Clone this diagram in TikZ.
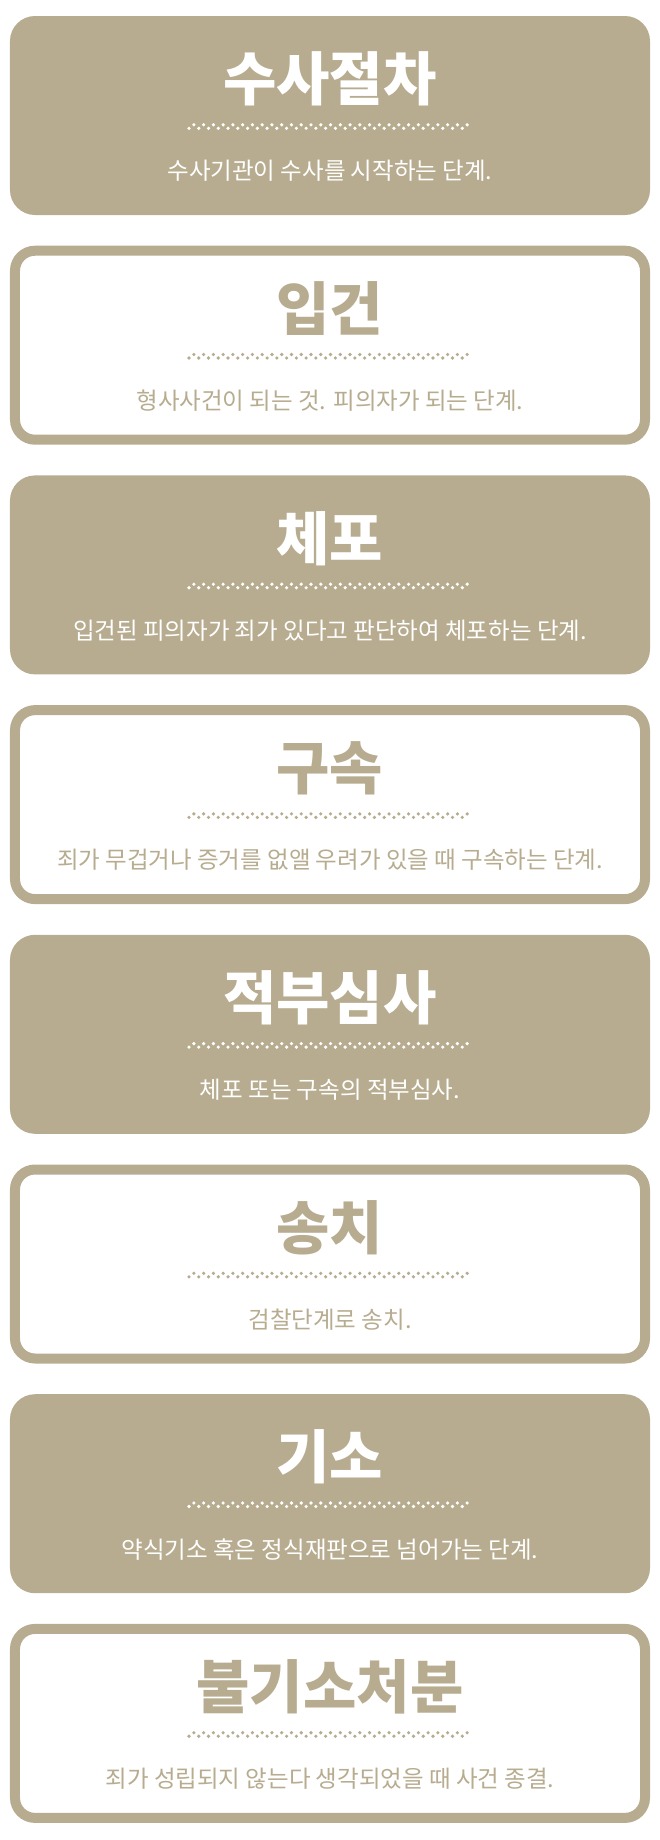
\documentclass[tikz,border=0pt]{standalone}
\usepackage{fontspec}
\newfontfamily\kr{Noto Sans CJK KR}
\usetikzlibrary{
  chains,
  positioning
}
\definecolor{tan}{RGB}{183,172,143}

\begin{document}
\begin{tikzpicture}[x=1pt,y=1pt,
  filled/.style={rectangle, rounded corners=25pt, fill=tan, minimum width=640pt, minimum height=199pt, inner sep=0pt, outer sep=0pt},
  framed/.style={rectangle, rounded corners=20pt, draw=tan, fill=white, line width=10pt, minimum width=630pt, minimum height=189pt, inner sep=0pt, outer sep=5pt},
  head/.style={font=\kr\bfseries\fontsize{58}{62}\selectfont, inner sep=0pt},
  desc/.style={font=\kr\fontsize{23.5}{27}\selectfont, inner sep=0pt},
  dots/.style={line width=3.6pt, line cap=round, dash pattern=on 0pt off 9.76pt},
  start chain=going below, node distance=30.7pt]
\useasboundingbox (-330,115.5) rectangle (330,-1724.5);
\foreach \i/\kind/\ink/\head/\desc in {
  1/filled/white/수사절차/수사기관이 수사를 시작하는 단계.,
  2/framed/tan/입건/형사사건이 되는 것. 피의자가 되는 단계.,
  3/filled/white/체포/입건된 피의자가 죄가 있다고 판단하여 체포하는 단계.,
  4/framed/tan/구속/죄가 무겁거나 증거를 없앨 우려가 있을 때 구속하는 단계.,
  5/filled/white/적부심사/체포 또는 구속의 적부심사.,
  6/framed/tan/송치/검찰단계로 송치.,
  7/filled/white/기소/약식기소 혹은 정식재판으로 넘어가는 단계.,
  8/framed/tan/불기소처분/죄가 성립되지 않는다 생각되었을 때 사건 종결.}
{
  \node[\kind, on chain] (b\i) {};
  \node[head, text=\ink] (t\i) at ([yshift=-63pt]b\i.north) {\head};
  \node[desc, text=\ink] (d\i) at ([yshift=-155pt]b\i.north) {\desc};
  % zigzag rule under the title
  \draw[dots, draw=\ink] ([xshift=-141pt,yshift=-112.3pt]b\i.north) -- ([xshift=142pt,yshift=-112.3pt]b\i.north);
  \draw[dots, draw=\ink] ([xshift=-136.12pt,yshift=-108.8pt]b\i.north) -- ([xshift=142pt,yshift=-108.8pt]b\i.north);
}
\end{tikzpicture}
\end{document}
